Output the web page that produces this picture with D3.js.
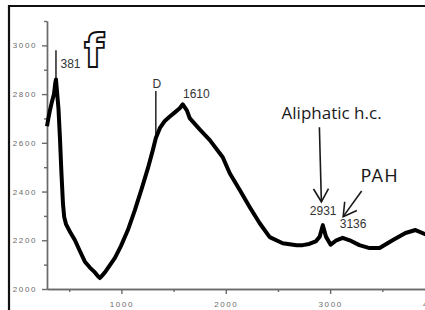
<!DOCTYPE html>
<html>
<head>
<meta charset="utf-8">
<script src="https://cdnjs.cloudflare.com/ajax/libs/d3/7.8.5/d3.min.js"></script>
<style>
  body { margin: 0; background: #fff; }
  svg { display: block; overflow: hidden; }
  .axis path, .axis line { stroke: #6a6a6a; stroke-width: 1.4; }
  .axis text { fill: #6a6a6a; font-family: "Liberation Sans", Arial, sans-serif; font-size: 8px; letter-spacing: 1.6px; }
  .peak { fill: #333; font-family: "Liberation Sans", Arial, sans-serif; font-size: 12px; }
</style>
</head>
<body>
<div id="chart"></div>
<script>
// Raman spectrum, panel f

// wavenumber (cm-1) and intensity
var wavenumber = [287, 300, 316, 335, 354, 366, 373, 385, 397, 411, 425, 440, 452, 470, 507, 555, 603, 650, 698, 746, 780, 794, 815, 842, 890, 938, 995, 1062, 1129, 1196, 1254, 1301, 1330, 1368, 1416, 1464, 1512, 1559, 1588, 1627, 1656, 1750, 1847, 1971, 2038, 2134, 2230, 2325, 2421, 2545, 2679, 2737, 2800, 2862, 2900, 2930, 2960, 3005, 3060, 3120, 3187, 3280, 3378, 3474, 3598, 3722, 3818, 3933];
var intensity = [2668, 2700, 2735, 2770, 2800, 2845, 2860, 2800, 2740, 2620, 2480, 2350, 2295, 2265, 2235, 2200, 2155, 2112, 2088, 2068, 2050, 2045, 2055, 2068, 2098, 2128, 2176, 2242, 2324, 2414, 2496, 2570, 2620, 2660, 2690, 2708, 2725, 2742, 2758, 2733, 2700, 2655, 2611, 2541, 2475, 2406, 2336, 2270, 2213, 2188, 2180, 2180, 2185, 2195, 2215, 2262, 2215, 2182, 2200, 2210, 2200, 2180, 2168, 2168, 2200, 2230, 2242, 2221];

// narrow spikes: position, base and top
var spikeX = [373, 1330];
var spikeBase = [2860, 2620];
var spikeTop = [2980, 2813];

// tick values
var yMajor = [2000, 2200, 2400, 2600, 2800, 3000];
var yMinor = [2100, 2300, 2500, 2700, 2900, 3100];
var xMajor = [1000, 2000, 3000, 4000];
var xMinor = [500, 1500, 2500, 3500];

// peak labels
var peakText = ["381", "D", "1610", "2931", "3136"];
var peakX = [512, 1340, 1718, 2933, 3220];
var peakY = [2906, 2826, 2783, 2303, 2250];

// arrows (from -> to)
var arrowFromX = [2897, 3302];
var arrowFromY = [2664, 2402];
var arrowToX = [2916, 3125];
var arrowToY = [2358, 2297];
var arrowText = ["Aliphatic h.c.", "PAH"];
var arrowTextX = [3014, 3477];
var arrowTextY = [2697, 2438];

var W = 425, H = 310;
var margin = {left: 47, top: 21, bottom: 21};

var x = d3.scaleLinear().domain([287, 4000]).range([margin.left, 434.5]);
var y = d3.scaleLinear().domain([2000, 3100]).range([H - margin.bottom, margin.top]);

var svg = d3.select("#chart").append("svg")
    .attr("width", W)
    .attr("height", H);

// frame (left + top)
svg.append("path")
    .attr("d", "M9,310 V6 H425")
    .attr("fill", "none")
    .attr("stroke", "#111")
    .attr("stroke-width", 2.2);

// axes
svg.append("g")
    .attr("class", "axis")
    .attr("transform", "translate(" + margin.left + ",0)")
    .call(d3.axisLeft(y).tickValues(yMinor).tickSize(3).tickSizeOuter(0).tickFormat(""));
svg.append("g")
    .attr("class", "axis")
    .attr("transform", "translate(" + margin.left + ",0)")
    .call(d3.axisLeft(y).tickValues(yMajor).tickSize(5).tickSizeOuter(0).tickPadding(5).tickFormat(d3.format("d")));

svg.append("g")
    .attr("class", "axis")
    .attr("transform", "translate(0," + (H - margin.bottom) + ")")
    .call(d3.axisBottom(x).tickValues(xMinor).tickSize(3).tickSizeOuter(0).tickFormat(""));
svg.append("g")
    .attr("class", "axis")
    .attr("transform", "translate(0," + (H - margin.bottom) + ")")
    .call(d3.axisBottom(x).tickValues(xMajor).tickSize(5).tickSizeOuter(0).tickPadding(7).tickFormat(d3.format("d")));

// spectrum
var pts = wavenumber.map(function(d, i) { return [d, intensity[i]]; });
var line = d3.line()
    .x(function(d) { return x(d[0]); })
    .y(function(d) { return y(d[1]); });

svg.append("path")
    .datum(pts)
    .attr("d", line)
    .attr("fill", "none")
    .attr("stroke", "#000")
    .attr("stroke-width", 4)
    .attr("stroke-linejoin", "round");

svg.selectAll(".spike")
    .data(spikeX)
    .enter().append("line")
    .attr("class", "spike")
    .attr("x1", function(d) { return x(d); })
    .attr("x2", function(d) { return x(d); })
    .attr("y1", function(d, i) { return y(spikeBase[i]); })
    .attr("y2", function(d, i) { return y(spikeTop[i]); })
    .attr("stroke", "#000")
    .attr("stroke-width", 1.3);

// peak labels
svg.selectAll(".peak")
    .data(peakText)
    .enter().append("text")
    .attr("class", "peak")
    .attr("x", function(d, i) { return x(peakX[i]); })
    .attr("y", function(d, i) { return y(peakY[i]); })
    .attr("text-anchor", "middle")
    .text(function(d) { return d; });

// panel letter
svg.append("text")
    .attr("x", x(737))
    .attr("y", y(2910))
    .attr("text-anchor", "middle")
    .style("font-family", "'DejaVu Sans', sans-serif")
    .style("font-weight", "bold")
    .style("font-size", "46px")
    .attr("fill", "#fff")
    .attr("stroke", "#111")
    .attr("stroke-width", 1.8)
    .text("f");

// arrows
arrowFromX.forEach(function(fx, i) {
  var x1 = x(fx), y1 = y(arrowFromY[i]);
  var x2 = x(arrowToX[i]), y2 = y(arrowToY[i]);
  var a = Math.atan2(y1 - y2, x1 - x2);
  var len = 15, spread = Math.PI / 6;
  var g = svg.append("g").attr("stroke", "#1a1a1a").attr("stroke-width", 1.6).attr("fill", "none");
  g.append("line").attr("x1", x1).attr("y1", y1).attr("x2", x2).attr("y2", y2);
  g.append("path")
    .attr("d", "M" + (x2 + len * Math.cos(a - spread)) + "," + (y2 + len * Math.sin(a - spread)) +
               "L" + x2 + "," + y2 +
               "L" + (x2 + len * Math.cos(a + spread)) + "," + (y2 + len * Math.sin(a + spread)));
});

svg.append("text")
    .attr("x", x(arrowTextX[0]))
    .attr("y", y(arrowTextY[0]))
    .attr("text-anchor", "middle")
    .style("font-family", "'Open Sans', sans-serif")
    .style("font-size", "17px")
    .attr("fill", "#1a1a1a")
    .text(arrowText[0]);

svg.append("text")
    .attr("x", x(arrowTextX[1]))
    .attr("y", y(arrowTextY[1]))
    .attr("text-anchor", "middle")
    .style("font-family", "Lato, sans-serif")
    .style("font-size", "17px")
    .style("letter-spacing", "1.5px")
    .attr("fill", "#1a1a1a")
    .text(arrowText[1]);
</script>
</body>
</html>
